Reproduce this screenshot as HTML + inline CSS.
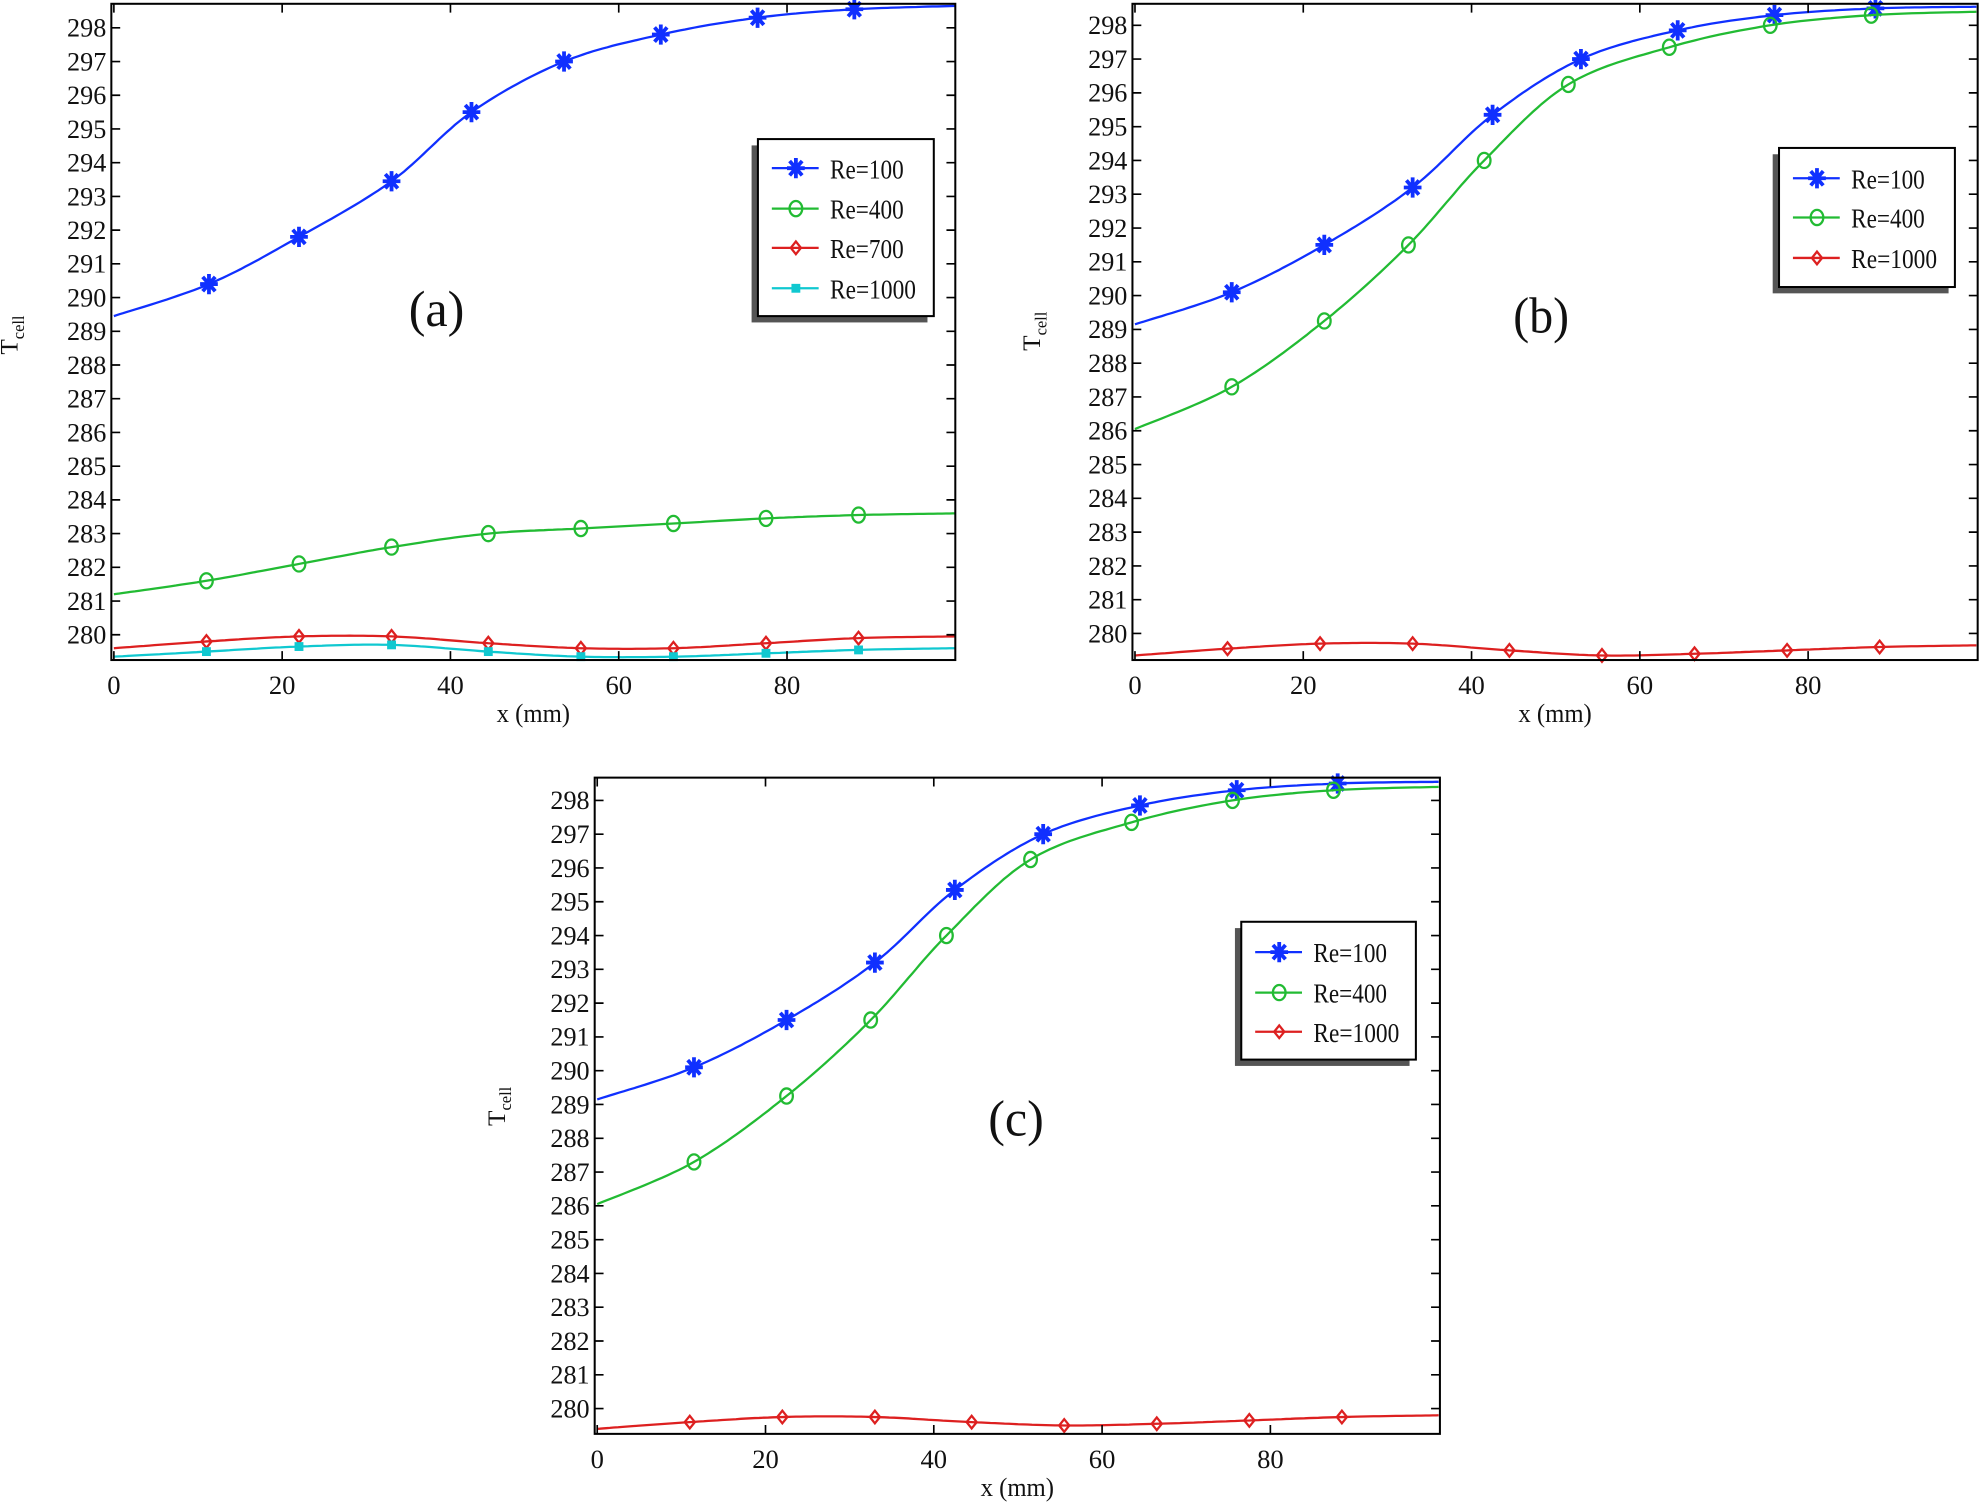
<!DOCTYPE html>
<html><head><meta charset="utf-8"><style>html,body{margin:0;padding:0;background:#fff}svg{display:block}</style></head>
<body>
<svg id="s" xmlns="http://www.w3.org/2000/svg" width="1984" height="1511" viewBox="0 0 1568 1195" preserveAspectRatio="none" font-family="'Liberation Serif', serif"></svg>
<script>
const S=document.getElementById('s');let h='';
const panels=[
 {L:88,R:755,T:3,B:522,x0:90,y298:22,y280:502,lab:'(a)',lx:345,ly:258,ylx:14,yly:265,
  leg:{x:599,y:110,w:139,h:140,ys:[133,165,196,228]},
  series:[
  ['#1030ff','star',[[0,289.45],[11.3,290.4],[22,291.8],[33,293.45],[42.5,295.5],[53.5,297.0],[65,297.8],[76.5,298.3],[88,298.55],[100,298.65]],'Re=100'],
  ['#22bb33','circ',[[0,281.2],[11,281.6],[22,282.1],[33,282.6],[44.5,283.0],[55.5,283.15],[66.5,283.3],[77.5,283.45],[88.5,283.55],[100,283.6]],'Re=400'],
  ['#dd2020','diam',[[0,279.6],[11,279.8],[22,279.95],[33,279.95],[44.5,279.75],[55.5,279.6],[66.5,279.6],[77.5,279.75],[88.5,279.9],[100,279.95]],'Re=700'],
  ['#10c8d0','sq',[[0,279.35],[11,279.5],[22,279.65],[33,279.7],[44.5,279.5],[55.5,279.35],[66.5,279.35],[77.5,279.45],[88.5,279.55],[100,279.6]],'Re=1000']]},
 {L:895,R:1563,T:3,B:522,x0:897,y298:20,y280:501,lab:'(b)',lx:1218,ly:263,ylx:822,yly:262,
  leg:{x:1406,y:117,w:139,h:110,ys:[141,172,204]},series:null},
 {L:470,R:1138,T:615,B:1134,x0:472,y298:633,y280:1114,lab:'(c)',lx:803,ly:898,ylx:399,yly:875,
  leg:{x:981,y:729,w:138,h:109,ys:[753,785,816]},series:null}];
const blue=['#1030ff','star',[[0,289.15],[11.5,290.1],[22.5,291.5],[33,293.2],[42.5,295.35],[53,297.0],[64.5,297.85],[76,298.3],[88,298.5],[100,298.55]],'Re=100'];
const green=['#22bb33','circ',[[0,286.05],[11.5,287.3],[22.5,289.25],[32.5,291.5],[41.5,294.0],[51.5,296.25],[63.5,297.35],[75.5,298.0],[87.5,298.3],[100,298.4]],'Re=400'];
panels[1].series=[blue,green,['#dd2020','diam',[[0,279.35],[11,279.55],[22,279.7],[33,279.7],[44.5,279.5],[55.5,279.35],[66.5,279.4],[77.5,279.5],[88.5,279.6],[100,279.65]],'Re=1000']];
panels[2].series=[blue,green,['#dd2020','diam',[[0,279.4],[11,279.6],[22,279.75],[33,279.75],[44.5,279.6],[55.5,279.5],[66.5,279.55],[77.5,279.65],[88.5,279.75],[100,279.8]],'Re=1000']];
function mk(t,x,y,c){
 if(t=='star'){let s='';for(let a=0;a<4;a++){const an=a*Math.PI/4;s+=`M${x-7*Math.cos(an)} ${y-8*Math.sin(an)}L${x+7*Math.cos(an)} ${y+8*Math.sin(an)}`;}return `<path d="${s}" stroke="${c}" stroke-width="3"/>`;}
 if(t=='circ')return `<ellipse cx="${x}" cy="${y}" rx="5" ry="6" fill="none" stroke="${c}" stroke-width="1.8"/>`;
 if(t=='diam')return `<path d="M${x} ${y-5}L${x+4} ${y}L${x} ${y+5}L${x-4} ${y}Z" fill="none" stroke="${c}" stroke-width="1.8"/>`;
 return `<rect x="${x-3.5}" y="${y-3.5}" width="7" height="7" fill="${c}"/>`;
}
function txt(x,y,s,fs,anchor,w){return `<text x="${x}" y="${y}" font-size="${fs}" text-anchor="${anchor}" ${w?`textLength="${w}" lengthAdjust="spacingAndGlyphs"`:''} fill="#111">${s}</text>`;}
for(const p of panels){
 const kx=133/20, ky=(p.y280-p.y298)/18;
 const X=v=>p.x0+v*kx, Y=t=>p.y298+(298-t)*ky;
 for(const [c,t,d] of p.series){
  const pts=[];const n=d.length;
  for(let i=0;i<n-1;i++){const p0=d[Math.max(0,i-1)],p1=d[i],p2=d[i+1],p3=d[Math.min(n-1,i+2)];
   for(let k=0;k<20;k++){const u=k/20,u2=u*u,u3=u2*u;
    const f=(a,b,c_,e)=>0.5*((2*b)+(-a+c_)*u+(2*a-5*b+4*c_-e)*u2+(-a+3*b-3*c_+e)*u3);
    pts.push([X(f(p0[0],p1[0],p2[0],p3[0])),Y(f(p0[1],p1[1],p2[1],p3[1]))]);}}
  pts.push([X(100),Y(d[n-1][1])]);
  h+=`<polyline points="${pts.map(q=>q[0].toFixed(1)+','+q[1].toFixed(1)).join(' ')}" fill="none" stroke="${c}" stroke-width="1.8"/>`;
  for(let i=1;i<n-1;i++)h+=mk(t,X(d[i][0]),Y(d[i][1]),c);
 }
 h+=`<rect x="${p.L}" y="${p.T}" width="${p.R-p.L}" height="${p.B-p.T}" fill="none" stroke="#000" stroke-width="1.6"/>`;
 for(let v=0;v<=80;v+=20){const x=X(v);h+=`<path d="M${x} ${p.B}v-7M${x} ${p.T}v7" stroke="#000" stroke-width="1.3"/>`;h+=txt(x,p.B+27,v,21,'middle');}
 for(let t=280;t<=298;t++){const y=Y(t);h+=`<path d="M${p.L} ${y}h7M${p.R} ${y}h-7" stroke="#000" stroke-width="1.3"/>`;h+=txt(p.L-4,y+7,t,21,'end',31);}
 h+=txt((p.L+p.R)/2,p.B+49,'x (mm)',21,'middle',58);
 h+=`<text transform="translate(${p.ylx},${p.yly}) rotate(-90)" font-size="20" text-anchor="middle" fill="#111">T<tspan font-size="13" dy="5">cell</tspan></text>`;
 h+=txt(p.lx,p.ly,p.lab,40,'middle',44);
 const g=p.leg;
 h+=`<rect x="${g.x-5}" y="${g.y+5}" width="${g.w}" height="${g.h}" fill="#555"/><rect x="${g.x}" y="${g.y}" width="${g.w}" height="${g.h}" fill="#fff" stroke="#000" stroke-width="1.6"/>`;
 p.series.forEach((s,i)=>{const y=g.ys[i];h+=`<path d="M${g.x+11} ${y}h37" stroke="${s[0]}" stroke-width="1.8"/>`+mk(s[1],g.x+30,y,s[0])+txt(g.x+57,y+8,s[3],22,'start',s[3].length*9.7);});
}
S.innerHTML=h;
</script>
</body></html>
